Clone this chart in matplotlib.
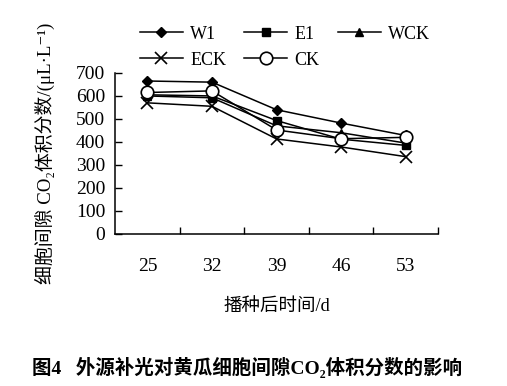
import numpy as np
import matplotlib.pyplot as plt

# days after sowing
days = ['25', '32', '39', '46', '53']

# intercellular CO2 (uL/L)
w1 = [665, 660, 540, 482, 428]
e1 = [605, 600, 493, 412, 385]
wck = [600, 592, 470, 440, 395]
eck = [570, 555, 413, 378, 336]
ck = [615, 622, 452, 414, 420]

fam = ['Liberation Serif', 'DejaVu Serif', 'Noto Sans CJK SC']
plt.rcParams['font.family'] = fam

fig = plt.figure(figsize=(5.07, 3.86), dpi=100)
ax = fig.add_axes([0.227, 0.394, 0.637, 0.417])

x = np.arange(len(days))
lw = 1.1
h_w1, = ax.plot(x, w1, '-D', color='black', lw=lw, ms=5, label='W1')
h_e1, = ax.plot(x, e1, '-s', color='black', lw=lw, ms=6, label='E1')
h_wck, = ax.plot(x, wck, '-^', color='black', lw=lw, ms=6, label='WCK')
h_eck, = ax.plot(x, eck, '-x', color='black', lw=lw, ms=9, mew=1.2, label='ECK')
h_ck, = ax.plot(x, ck, '-o', color='black', mfc='white', mew=1.2, lw=lw, ms=9, label='CK')

ax.set_xlim(-0.5, len(days) - 0.5)
ax.set_ylim(0, 700)
ax.set_yticks(range(0, 701, 100))
ax.set_xticks(x)
ax.set_xticklabels(days)
ax.set_xticks(np.arange(0.5, len(days), 1.0), minor=True)
ax.tick_params(axis='x', which='major', length=0, pad=17, labelsize=14)
ax.tick_params(axis='x', which='minor', direction='in', length=5, width=1)
ax.tick_params(axis='y', direction='in', length=5, width=1, labelsize=14, pad=7)
for s in ['top', 'right']:
    ax.spines[s].set_visible(False)
for s in ['left', 'bottom']:
    ax.spines[s].set_linewidth(1.1)

ax.set_ylabel('细胞间隙 CO₂体积分数/(μL·L⁻¹)', fontsize=13.6, labelpad=15)
ax.set_xlabel('播种后时间/d', fontsize=13.3, labelpad=17)

fig.legend([h_w1, h_eck, h_e1, h_ck, h_wck], ['W1', 'ECK', 'E1', 'CK', 'WCK'],
           ncol=3, frameon=False, loc='center', bbox_to_anchor=(0.562, 0.878),
           fontsize=13, handlelength=2.4, columnspacing=1.0, labelspacing=0.5,
           handletextpad=0.4)

fig.text(0.487, 0.049, '图4   外源补光对黄瓜细胞间隙CO₂体积分数的影响',
         ha='center', va='center', fontsize=14, fontweight='bold')

fig.savefig('out.png', dpi=100)
